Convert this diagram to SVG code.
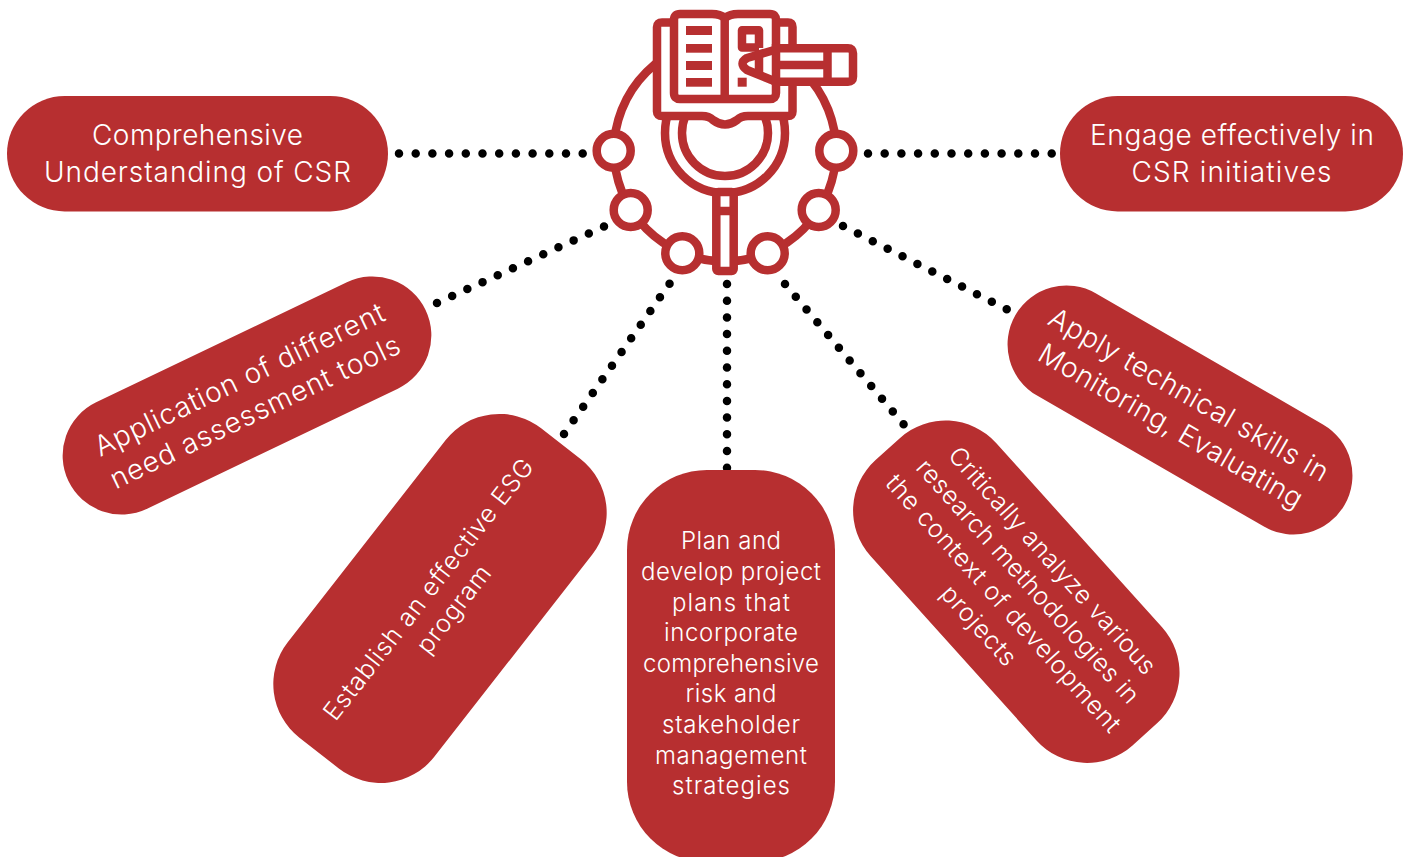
<svg xmlns="http://www.w3.org/2000/svg" width="1407" height="857" viewBox="0 0 1407 857">
<style>
.pill{fill:#b72f30}
.t{font-family:"Inter","Liberation Sans",sans-serif;font-weight:300;fill:#fff;text-anchor:middle;font-size:28px}
.m{font-size:25px}
.s{font-size:24px}
.dot{fill:none;stroke:#000;stroke-width:8.500;stroke-linecap:round;stroke-dasharray:0 16.700}
.i{fill:none;stroke:#b72f30;stroke-width:8.500;stroke-linejoin:round}
.w{fill:#fff;stroke:#b72f30;stroke-width:8.500;stroke-linejoin:round}
.f{fill:#b72f30}
</style>
<rect width="1407" height="857" fill="#fff"/>
<g id="connectors">
<path class="dot" d="M399 153.500H583.500"/>
<path class="dot" d="M868 153.500H1053"/>
<path class="dot" d="M437 303L605 226"/>
<path class="dot" d="M564 434L670 283"/>
<path class="dot" d="M727 284V469"/>
<path class="dot" d="M785 284L905 426"/>
<path class="dot" d="M843 226L1008 310"/>
</g>
<g id="icon">
<circle class="i" cx="725" cy="150.500" r="111"/>
<circle class="w" cx="613.700" cy="150.700" r="17"/>
<circle class="w" cx="836.300" cy="150.700" r="17"/>
<circle class="w" cx="630.700" cy="210" r="17"/>
<circle class="w" cx="818.700" cy="210" r="17"/>
<circle class="w" cx="682.300" cy="253.300" r="17"/>
<circle class="w" cx="767.700" cy="253.300" r="17"/>
<circle class="w" cx="725" cy="133" r="60"/>
<circle class="w" cx="725" cy="133" r="43"/>
<rect class="w" x="716.300" y="192" width="17.400" height="79" rx="2"/>
<path class="i" d="M716 211H734"/>
<path class="w" d="M662 22.500H788Q792.500 22.500 792.500 27V111.500Q792.500 116 788 116H748Q741 116 737 120Q725 129 713 120Q709 116 702 116H662Q657 116 657 111.500V27Q657 22.500 662 22.500Z"/>
<path class="w" d="M680 14H712Q720 14 725 18Q730 14 738 14H770Q776 14 776 20V93Q776 99 770 99H680Q674 99 674 93V20Q674 14 680 14Z"/>
<path class="i" d="M724.700 18V99"/>
<rect class="f" x="686" y="26" width="26" height="9"/>
<rect class="f" x="686" y="44" width="26" height="8.700"/>
<rect class="f" x="686" y="61" width="26" height="9"/>
<rect class="f" x="686" y="78" width="26" height="8.700"/>
<rect class="f" x="737.700" y="77.700" width="9" height="9"/>
<path class="i" d="M759 48V30.200H742V47.500H759"/>
<path class="w" d="M776 48.300H848Q853 48.300 853 53.300V76.700Q853 81.700 848 81.700H776L747 70Q738 63.500 747 58L776 49.500Z"/>
<path class="i" d="M759 50V73M776 44V85M776 65H827.500M827.500 48.300V81.700"/>
</g>
<g id="n1"><rect class="pill" x="7" y="96" width="381" height="115.500" rx="57.700"/>
<text class="t" x="197.500" y="145" textLength="211">Comprehensive</text>
<text class="t" x="197.500" y="182" textLength="307">Understanding of CSR</text></g>
<g id="n2"><rect class="pill" x="1060" y="96" width="343" height="115.500" rx="57.700"/>
<text class="t" x="1232" y="145" textLength="284">Engage effectively in</text>
<text class="t" x="1231.500" y="182" textLength="200">CSR initiatives</text></g>
<g id="n3" transform="translate(247 395.500) rotate(-25.600)"><rect class="pill" x="-198" y="-59" width="396" height="118" rx="59"/>
<text class="t" x="0" y="-8" textLength="318">Application of different</text>
<text class="t" x="0" y="28" textLength="318">need assessment tools</text></g>
<g id="n4" transform="translate(440 598.400) rotate(-52)"><rect class="pill" x="-196.300" y="-93" width="392.600" height="186" rx="68"/>
<text class="t m" x="0" y="-6" textLength="324">Establish an effective ESG</text>
<text class="t m" x="0" y="26" textLength="104">program</text></g>
<g id="n5"><rect class="pill" x="627" y="470" width="208" height="392" rx="80"/>
<text class="t s" x="731" y="549" textLength="100">Plan and</text>
<text class="t s" x="731" y="580" textLength="180">develop project</text>
<text class="t s" x="731" y="611" textLength="118">plans that</text>
<text class="t s" x="731" y="641" textLength="134">incorporate</text>
<text class="t s" x="731" y="672" textLength="176">comprehensive</text>
<text class="t s" x="731" y="702" textLength="91">risk and</text>
<text class="t s" x="731" y="733" textLength="138">stakeholder</text>
<text class="t s" x="731" y="764" textLength="152">management</text>
<text class="t s" x="731" y="794" textLength="118">strategies</text></g>
<g id="n6" transform="translate(1016.300 591.700) rotate(48)"><rect class="pill" x="-192" y="-84.500" width="384" height="169" rx="68"/>
<text class="t m" x="1" y="-39" textLength="296">Critically analyze various</text>
<text class="t m" x="0" y="-7" textLength="319">research methodologies in</text>
<text class="t m" x="0" y="26" textLength="337">the context of development</text>
<text class="t m" x="0" y="59" textLength="99">projects</text></g>
<g id="n7" transform="translate(1180 410) rotate(30)"><rect class="pill" x="-190" y="-59" width="380" height="118" rx="59"/>
<text class="t" x="0" y="-8" textLength="318">Apply technical skills in</text>
<text class="t" x="0" y="28" textLength="300">Monitoring, Evaluating</text></g>
</svg>
